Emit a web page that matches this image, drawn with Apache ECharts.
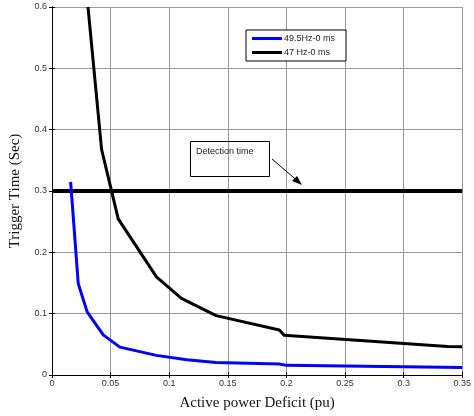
<!DOCTYPE html>
<html>
<head>
<meta charset="utf-8">
<script src="https://cdn.jsdelivr.net/npm/echarts@6/dist/echarts.min.js"></script>
<style>
html, body { margin: 0; padding: 0; background: #fff; }
#main { width: 474px; height: 416px; }
</style>
</head>
<body>
<div id="main"></div>
<script>
// values
var xTicks = [0, 0.05, 0.1, 0.15, 0.2, 0.25, 0.3, 0.35];
var yTicks = [0, 0.1, 0.2, 0.3, 0.4, 0.5, 0.6];

var blueX = [0.0159, 0.0224, 0.030, 0.0437, 0.0579, 0.089, 0.115, 0.14, 0.194, 0.2, 0.35];
var blueY = [0.315, 0.149, 0.103, 0.0654, 0.0454, 0.032, 0.025, 0.0205, 0.0178, 0.0157, 0.0124];

var blackX = [0.0307, 0.0423, 0.0565, 0.0891, 0.1104, 0.140, 0.194, 0.198, 0.3375, 0.35];
var blackY = [0.6, 0.368, 0.2546, 0.160, 0.125, 0.0968, 0.0735, 0.065, 0.0465, 0.046];

var detectX = [0, 0.35];
var detectY = [0.3, 0.3];

function pairs(xs, ys) {
	var r = [];
	for (var i = 0; i < xs.length; i++) {
		r.push([xs[i], ys[i]]);
	}
	return r;
}

var chart = echarts.init(document.getElementById('main'));
var labelFont = 'Liberation Sans';
var titleFont = 'Liberation Serif';

var option = {
	animation: false,
	backgroundColor: '#fff',
	grid: { left: 52, right: 11, top: 7, bottom: 39 },
	legend: {
		left: 246, top: 30,
		orient: 'vertical',
		data: ['49.5Hz-0 ms', '47 Hz-0 ms'],
		icon: 'rect',
		itemWidth: 30, itemHeight: 3,
		itemGap: 5,
		padding: [4, 11, 4, 6],
		backgroundColor: '#fff',
		borderColor: '#000', borderWidth: 1,
		borderRadius: 0,
		textStyle: { fontFamily: labelFont, fontSize: 9, color: '#222', padding: [0, 0, 0, -3] }
	},
	xAxis: [{
		type: 'value', min: 0, max: 0.35, interval: 0.05,
		name: 'Active power Deficit (pu)', nameLocation: 'middle', nameGap: 21,
		nameTextStyle: { fontFamily: titleFont, fontSize: 15, color: '#111' },
		axisLine: { lineStyle: { color: '#000', width: 1 } },
		axisTick: { inside: true, length: 3, lineStyle: { color: '#000' } },
		axisLabel: { fontFamily: labelFont, fontSize: 9, color: '#333', margin: 4,
			formatter: function (v) { return String(+v.toFixed(2)); } },
		splitLine: { show: true, lineStyle: { color: '#999', width: 1 } }
	}, {
		type: 'value', min: 0, max: 0.35, interval: 0.05, position: 'top',
		axisLine: { show: true, lineStyle: { color: '#000', width: 1 } },
		axisTick: { inside: true, length: 3, lineStyle: { color: '#000' } },
		axisLabel: { show: false },
		splitLine: { show: false }
	}],
	yAxis: [{
		type: 'value', min: 0, max: 0.6, interval: 0.1,
		name: 'Trigger Time (Sec)', nameLocation: 'middle', nameGap: 29,
		nameTextStyle: { fontFamily: titleFont, fontSize: 15, color: '#111' },
		axisLine: { show: true, lineStyle: { color: '#000', width: 1 } },
		axisTick: { show: true, inside: true, length: 3, lineStyle: { color: '#000' } },
		axisLabel: { fontFamily: labelFont, fontSize: 9, color: '#333', margin: 5,
			formatter: function (v) { return String(+v.toFixed(1)); } },
		splitLine: { show: true, lineStyle: { color: '#999', width: 1 } }
	}, {
		type: 'value', min: 0, max: 0.6, interval: 0.1, position: 'right',
		axisLine: { show: true, lineStyle: { color: '#000', width: 1 } },
		axisTick: { show: true, inside: true, length: 3, lineStyle: { color: '#000' } },
		axisLabel: { show: false },
		splitLine: { show: false }
	}],
	series: [{
		name: 'Detection time', type: 'line', data: pairs(detectX, detectY),
		showSymbol: false, lineStyle: { color: '#000', width: 4 }, z: 3
	}, {
		name: '49.5Hz-0 ms', type: 'line', data: pairs(blueX, blueY),
		showSymbol: false, itemStyle: { color: '#0000ff' },
		lineStyle: { color: '#0000ff', width: 3 }
	}, {
		name: '47 Hz-0 ms', type: 'line', data: pairs(blackX, blackY),
		showSymbol: false, itemStyle: { color: '#000' },
		lineStyle: { color: '#000', width: 3 }
	}],
	graphic: [{
		type: 'rect', shape: { x: 190.5, y: 141.5, width: 79, height: 35 },
		style: { fill: 'none', stroke: '#000', lineWidth: 1 }, z: 10
	}, {
		type: 'text', x: 196, y: 147,
		style: { text: 'Detection time', fontFamily: labelFont, fontSize: 9, fill: '#222' }, z: 10
	}, {
		type: 'line', shape: { x1: 272, y1: 159, x2: 300, y2: 183 },
		style: { stroke: '#000', lineWidth: 1 }, z: 10
	}, {
		type: 'polygon', shape: { points: [[302, 185], [292, 181], [297, 176]] },
		style: { fill: '#000' }, z: 10
	}]
};
chart.setOption(option);
</script>
</body>
</html>
